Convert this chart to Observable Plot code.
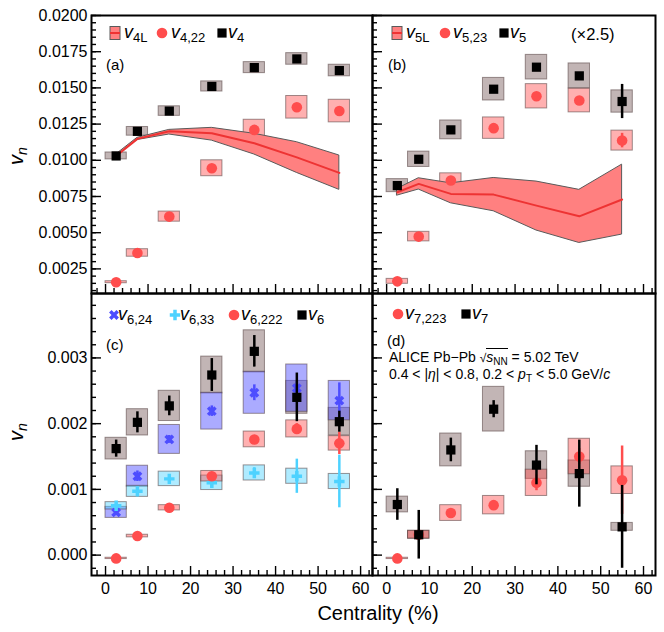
<!DOCTYPE html>
<html><head><meta charset="utf-8">
<script src="https://cdn.jsdelivr.net/npm/d3@7"></script>
<script src="https://cdn.jsdelivr.net/npm/@observablehq/plot@0.6"></script>
<style>
body{margin:0;background:#fff;}
#fig{position:relative;width:664px;height:632px;overflow:hidden;font-family:'Liberation Sans',Arial,sans-serif;background:#fff;}
.t{position:absolute;white-space:nowrap;line-height:1;color:#000;}
.t i{font-style:italic;}
.sub{font-size:13px;position:relative;top:4px;font-style:normal;}
.sub2{font-size:10px;position:relative;top:3px;font-style:normal;line-height:0;}
.sw{position:absolute;overflow:visible;}
</style></head><body><div id="fig"></div>
<script>
// ---------- data ----------
const centrality = [2.5, 7.5, 15, 25, 35, 45, 55];

// panel (a)
const v4      = [0.0103, 0.0120, 0.0134, 0.0151, 0.0164, 0.0170, 0.0162];
const v4Sys   = [0.00024, 0.0003, 0.00033, 0.00035, 0.00038, 0.0004, 0.0004];
const v422    = [0.00158, 0.0036, 0.00611, 0.00945, 0.0121, 0.01366, 0.0134];
const v422Sys = [0.00007, 0.00026, 0.00035, 0.00055, 0.0007, 0.00078, 0.00078];
const v4L     = [0.0103, 0.01148, 0.0120, 0.01187, 0.01118, 0.0102, 0.00913];
const v4LLow  = [0.0103, 0.0114, 0.01178, 0.01136, 0.0104, 0.00913, 0.00796];
const v4LHigh = [0.0104, 0.01155, 0.0121, 0.01224, 0.01183, 0.01125, 0.01033];

// panel (b)  (values shown x2.5)
const v5      = [0.00825, 0.01007, 0.0121, 0.01491, 0.01643, 0.01583, 0.01406];
const v5Sys   = [0.00045, 0.00053, 0.00065, 0.00078, 0.00085, 0.00086, 0.00077];
const v5Err   = [0, 0, 0, 0, 0, 0, 0.00118];
const v523    = [0.00164, 0.00473, 0.0086, 0.01222, 0.01442, 0.01413, 0.01136];
const v523Sys = [0.00017, 0.00033, 0.0005, 0.00074, 0.00084, 0.00082, 0.00069];
const v523Err = [0, 0, 0, 0, 0, 0, 0.0005];
const v5L     = [0.00779, 0.00837, 0.00768, 0.00763, 0.00687, 0.00613, 0.00729];
const v5LLow  = [0.00756, 0.00798, 0.00703, 0.00648, 0.00515, 0.00429, 0.00487];
const v5LHigh = [0.00802, 0.00876, 0.00841, 0.00878, 0.00853, 0.00796, 0.0097];

// panel (c)
const v6       = [0.00162, 0.00202, 0.00227, 0.00274, 0.0031, 0.0024, 0.00203];
const v6Sys    = [0.000165, 0.0002, 0.00023, 0.00028, 0.00032, 0.00025, 0.00021];
const v6Err    = [0.00013, 0.00016, 0.00015, 0.00025, 0.00024, 0.00037, 0.00016];
const v624     = [0.00065, 0.0012, 0.00176, 0.00219, 0.00247, 0.00254, 0.00235];
const v624Sys  = [0.000084, 0.00016, 0.00022, 0.00028, 0.00032, 0.00036, 0.0003];
const v624Err  = [0.00005, 0.00008, 0.00006, 0.00008, 0.00012, 0.0001, 0.00027];
const v633     = [0.00075, 0.00097, 0.00116, 0.0011, 0.00125, 0.0012, 0.00112];
const v633Sys  = [0.000056, 0.000084, 0.00011, 0.00011, 0.000115, 0.000115, 0.000115];
const v633Err  = [0.00004, 0.00006, 0.00005, 0.00007, 0.00008, 0.00026, 0.0004];
const v6222    = [-0.00005, 0.00029, 0.00072, 0.0012, 0.00176, 0.00192, 0.0017];
const v6222Sys = [0.00001, 0.00002, 0.00004, 0.00008, 0.00012, 0.00013, 0.00011];
const v6222Err = [0.00005, 0.00002, 0.00003, 0.00004, 0.00006, 0.00008, 0.00017];

// panel (d)
const v7       = [0.00077, 0.00031, 0.0016, 0.00222, 0.00137, 0.00124, 0.00043];
const v7Sys    = [0.00012, 0.00006, 0.00025, 0.00034, 0.00021, 0.0002, 0.00006];
const v7Err    = [0.00024, 0.00037, 0.00018, 0.00013, 0.0003, 0.00051, 0.00063];
const v7223    = [-0.00005, 0.00031, 0.00064, 0.00076, 0.0011, 0.0015, 0.00114];
const v7223Sys = [0.00001, 0.00006, 0.00012, 0.00014, 0.0002, 0.00027, 0.00021];
const v7223Err = [0.00004, 0.00004, 0.00004, 0.00005, 0.00012, 0.00012, 0.00052];

// axes
const xDomain = [-3.3, 62.8];
const xTicks = [0, 10, 20, 30, 40, 50, 60];
const xMinorTicks = [-2, 2, 4, 6, 8, 12, 14, 16, 18, 22, 24, 26, 28, 32, 34, 36, 38, 42, 44, 46, 48, 52, 54, 56, 58, 62];
const yDomainTop = [0.0008, 0.0200];
const yTicksTop = [0.0025, 0.0050, 0.0075, 0.0100, 0.0125, 0.0150, 0.0175, 0.0200];
const yMinorTop = d3.range(2, 41).map(k => k * 0.0005);
const yDomainBottom = [-0.00031, 0.00398];
const yTicksBottom = [0.000, 0.001, 0.002, 0.003];
const yMinorBottom = d3.range(-1, 20).map(k => k * 0.0002);

// ---------- styles ----------
const RED = "#ff4d4d", BLUE = "#4d4dff", CYAN = "#4dd2ff", BLACK = "#000";
const RED_BOX = "rgba(255,80,80,0.45)", BLK_BOX = "rgba(120,90,90,0.45)",
      BLUE_BOX = "rgba(80,80,255,0.48)", CYAN_BOX = "rgba(77,210,255,0.45)";
const BOX_STROKE = "rgba(80,60,60,0.55)";
const BAND_FILL = "#ff8080", BAND_STROKE = "#5a5a5a", BAND_LINE = "#ee3333";
const BOX_HW = 2.5;

function series(vals, sys, err) {
  return centrality.map((x, i) => ({x, v: vals[i], s: sys[i], e: err ? err[i] : 0}));
}
function band(c, lo, hi) {
  return centrality.map((x, i) => ({x, c: c[i], lo: lo[i], hi: hi[i]}));
}
function boxes(data, fill) {
  return Plot.rect(data, {x1: d => d.x - BOX_HW, x2: d => d.x + BOX_HW, y1: d => d.v - d.s, y2: d => d.v + d.s,
    fill, stroke: BOX_STROKE, strokeWidth: 1});
}
function errs(data, stroke) {
  return Plot.ruleX(data.filter(d => d.e > 0), {x: "x", y1: d => d.v - d.e, y2: d => d.v + d.e, stroke, strokeWidth: 2.5});
}
function dots(data, opts) { return Plot.dot(data, {x: "x", y: "v", ...opts}); }
function bandMarks(data) {
  return [
    Plot.areaY(data, {x: "x", y1: "lo", y2: "hi", fill: BAND_FILL, stroke: BAND_STROKE, strokeWidth: 1}),
    Plot.lineY(data, {x: "x", y: "c", stroke: BAND_LINE, strokeWidth: 2})
  ];
}

const fig = document.getElementById("fig");

function panel({left, top, width, height, mt, mb, ml, mr, yDomain, yTicks, yMinor, yFmt, showY, showX, marks}) {
  const W = width - ml - mr, H = height - mt - mb;
  const tk = {stroke: "#000", strokeWidth: 1.4};
  const m = [...marks,
    Plot.tickY(yMinor, {y: d => d, insetRight: W - 5, ...tk}),
    Plot.tickY(yTicks, {y: d => d, insetRight: W - 10, ...tk}),
    Plot.tickX(xMinorTicks, {x: d => d, insetTop: H - 5, ...tk}),
    Plot.tickX(xTicks, {x: d => d, insetTop: H - 9, ...tk})
  ];
  if (showY) m.push(Plot.axisY(yTicks, {tickSize: 0, tickPadding: 4, tickFormat: d3.format(yFmt), label: null}));
  if (showX) m.push(Plot.axisX(xTicks, {tickSize: 0, tickPadding: 7, label: null}));
  m.push(Plot.frame({stroke: "#000", strokeWidth: 2}));
  const svg = Plot.plot({
    width, height, marginTop: mt, marginBottom: mb, marginLeft: ml, marginRight: mr,
    x: showX ? {domain: xDomain} : {domain: xDomain, axis: null},
    y: showY ? {domain: yDomain, clamp: true} : {domain: yDomain, clamp: true, axis: null},
    style: {background: "transparent", fontFamily: "'Liberation Sans', Arial, sans-serif", fontSize: "16px", overflow: "visible", color: "#000"},
    marks: m
  });
  svg.style.position = "absolute";
  svg.style.left = left + "px";
  svg.style.top = top + "px";
  fig.appendChild(svg);
}

// panel (a)
const sA4 = series(v4, v4Sys), sA422 = series(v422, v422Sys), bA = band(v4L, v4LLow, v4LHigh);
panel({left: 0, top: 0, width: 373, height: 295, mt: 15, mb: 2, ml: 91, mr: 1,
  yDomain: yDomainTop, yTicks: yTicksTop, yMinor: yMinorTop, yFmt: ".4f", showY: true, showX: false,
  marks: [boxes(sA422, RED_BOX), boxes(sA4, BLK_BOX), ...bandMarks(bA),
    dots(sA422, {r: 5.3, fill: RED}), dots(sA4, {symbol: "square", r: 5.2, fill: BLACK})]});

// panel (b)
const sB5 = series(v5, v5Sys, v5Err), sB523 = series(v523, v523Sys, v523Err), bB = band(v5L, v5LLow, v5LHigh);
panel({left: 362, top: 0, width: 296, height: 295, mt: 15, mb: 2, ml: 10, mr: 3,
  yDomain: yDomainTop, yTicks: yTicksTop, yMinor: yMinorTop, yFmt: ".4f", showY: false, showX: false,
  marks: [boxes(sB523, RED_BOX), boxes(sB5, BLK_BOX), ...bandMarks(bB),
    errs(sB523, RED), dots(sB523, {r: 5.3, fill: RED}),
    errs(sB5, BLACK), dots(sB5, {symbol: "square", r: 5.2, fill: BLACK})]});

// panel (c)
const sC6 = series(v6, v6Sys, v6Err), sC624 = series(v624, v624Sys, v624Err),
      sC633 = series(v633, v633Sys, v633Err), sC6222 = series(v6222, v6222Sys, v6222Err);
panel({left: 0, top: 283, width: 373, height: 349, mt: 10, mb: 57, ml: 91, mr: 1,
  yDomain: yDomainBottom, yTicks: yTicksBottom, yMinor: yMinorBottom, yFmt: ".3f", showY: true, showX: true,
  marks: [boxes(sC6, BLK_BOX), boxes(sC624, BLUE_BOX), boxes(sC633, CYAN_BOX), boxes(sC6222, RED_BOX),
    errs(sC624, BLUE), dots(sC624, {symbol: "cross", rotate: 45, r: 4.4, fill: BLUE}),
    errs(sC633, CYAN), dots(sC633, {symbol: "cross", r: 4.4, fill: CYAN}),
    errs(sC6222, RED), dots(sC6222, {r: 5.3, fill: RED}),
    errs(sC6, BLACK), dots(sC6, {symbol: "square", r: 5.2, fill: BLACK})]});

// panel (d)
const sD7 = series(v7, v7Sys, v7Err), sD7223 = series(v7223, v7223Sys, v7223Err);
panel({left: 362, top: 283, width: 296, height: 349, mt: 10, mb: 57, ml: 10, mr: 3,
  yDomain: yDomainBottom, yTicks: yTicksBottom, yMinor: yMinorBottom, yFmt: ".3f", showY: false, showX: true,
  marks: [boxes(sD7, BLK_BOX), boxes(sD7223, RED_BOX),
    errs(sD7223, RED), dots(sD7223, {r: 5.3, fill: RED}),
    errs(sD7, BLACK), dots(sD7, {symbol: "square", r: 5.2, fill: BLACK})]});

// ---------- legends and labels ----------
function text(html, left, top, size, extra) {
  const d = document.createElement("div");
  d.className = "t";
  d.innerHTML = html;
  Object.assign(d.style, {left: left + "px", top: top + "px", fontSize: size + "px"}, extra || {});
  fig.appendChild(d);
  return d;
}
function swatch(kind, cx, cy) {
  const ns = "http://www.w3.org/2000/svg";
  const s = document.createElementNS(ns, "svg");
  s.setAttribute("width", 20); s.setAttribute("height", 20);
  s.setAttribute("class", "sw");
  s.style.left = (cx - 10) + "px"; s.style.top = (cy - 10) + "px";
  let inner = "";
  if (kind === "band") inner = `<rect x="5" y="3.5" width="10" height="13" fill="${BAND_FILL}" stroke="${BAND_STROKE}" stroke-width="1"/><line x1="5" x2="15" y1="10" y2="10" stroke="${BAND_LINE}" stroke-width="2"/>`;
  else if (kind === "circle") inner = `<circle cx="10" cy="10" r="5.3" fill="${RED}"/>`;
  else if (kind === "square") inner = `<rect x="5.4" y="5.4" width="9.2" height="9.2" fill="#000"/>`;
  else if (kind === "plus") inner = `<path transform="translate(10,10)" d="${d3.symbol(d3.symbolCross, Math.PI * 4.4 * 4.4)()}" fill="${CYAN}"/>`;
  else if (kind === "times") inner = `<path transform="translate(10,10) rotate(45)" d="${d3.symbol(d3.symbolCross, Math.PI * 4.4 * 4.4)()}" fill="${BLUE}"/>`;
  s.innerHTML = inner;
  fig.appendChild(s);
}
const V = (sub) => `<i>v</i><span class="sub">${sub}</span>`;
const LS = 18;

// (a) legend
swatch("band", 115, 33); text(V("4L"), 124, 23, LS);
swatch("circle", 162, 33); text(V("4,22"), 171, 23, LS);
swatch("square", 222, 33); text(V("4"), 228, 23, LS);
text("(a)", 106, 57, 15);
// (b) legend
swatch("band", 397, 33); text(V("5L"), 406, 23, LS);
swatch("circle", 445, 33); text(V("5,23"), 453, 23, LS);
swatch("square", 504, 33); text(V("5"), 510, 23, LS);
text("(×2.5)", 571, 26, 16.5);
text("(b)", 388, 57, 15);
// (c) legend
swatch("times", 114, 315); text(V("6,24"), 118, 305, LS);
swatch("plus", 175, 315); text(V("6,33"), 180, 305, LS);
swatch("circle", 234, 315); text(V("6,222"), 241, 305, LS);
swatch("square", 302, 315); text(V("6"), 308, 305, LS);
text("(c)", 106, 337, 15);
// (d) legend
swatch("circle", 398, 314); text(V("7,223"), 405, 304, LS);
swatch("square", 466, 314); text(V("7"), 472, 304, LS);
text("(d)", 387, 333, 15);
text(`ALICE Pb−Pb <span style="font-size:12px">√</span><span style="border-top:1px solid #000"><i>s</i><span class="sub2">NN</span></span> = 5.02 TeV`, 389, 350, 14);
text(`0.4 &lt; |<i>η</i>| &lt; 0.8, 0.2 &lt; <i>p</i><span class="sub2">T</span> &lt; 5.0 GeV/<i>c</i>`, 389, 367, 14);

// axis titles
const yl = `<i>v</i><span class="sub" style="font-size:14px"><i>n</i></span>`;
text(yl, 16, 156, 20, {transform: "translate(-50%,-50%) rotate(-90deg)"});
text(yl, 16, 432, 20, {transform: "translate(-50%,-50%) rotate(-90deg)"});
text("Centrality (%)", 378, 613, 20, {transform: "translate(-50%,-50%)"});
</script>
</body></html>
